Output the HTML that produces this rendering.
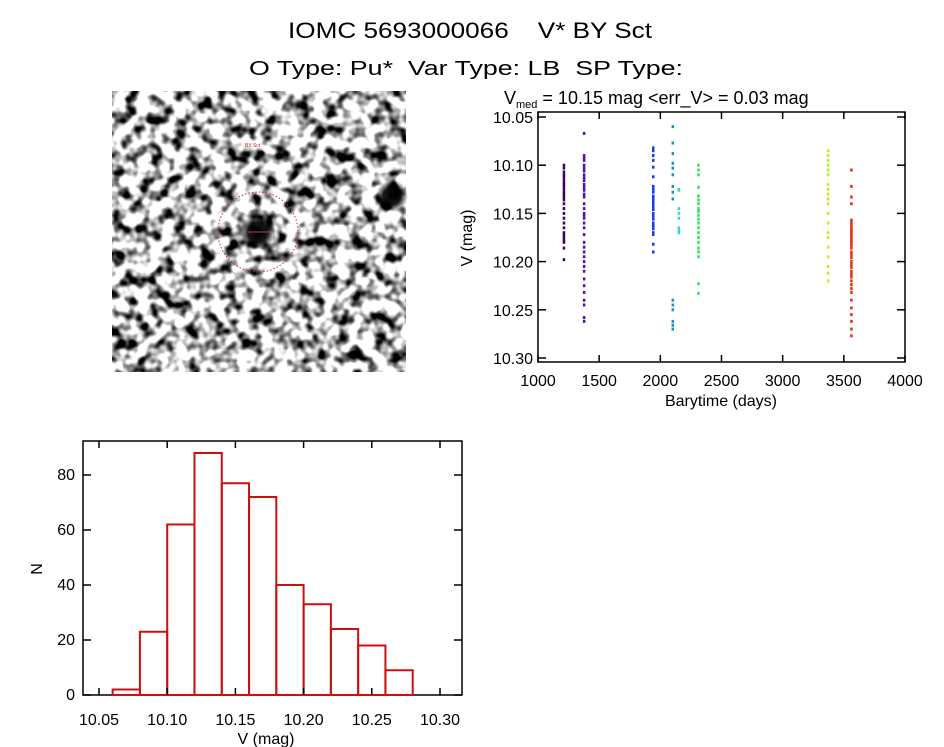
<!DOCTYPE html>
<html><head><meta charset="utf-8"><style>
html,body{margin:0;padding:0;background:#fff;}
svg{display:block;font-family:"Liberation Sans",sans-serif;}
text{white-space:pre;}
</style></head><body>
<svg id="root" width="944" height="747" viewBox="0 0 944 747" xmlns="http://www.w3.org/2000/svg">
<defs>
<filter id="noise" x="0" y="0" width="100%" height="100%">
<feTurbulence type="fractalNoise" baseFrequency="0.08" numOctaves="2" seed="7"/>
<feColorMatrix type="matrix" values="0 0 0 0 0  0 0 0 0 0  0 0 0 0 0  -3.6 0 0 0 2.05"/>
</filter>
<radialGradient id="star"><stop offset="0" stop-color="#000"/><stop offset="0.55" stop-color="#000" stop-opacity="0.9"/><stop offset="1" stop-color="#000" stop-opacity="0"/></radialGradient>
</defs>
<text x="470" y="38" font-size="22" text-anchor="middle" textLength="364" lengthAdjust="spacingAndGlyphs">IOMC 5693000066    V* BY Sct</text>
<text x="466" y="75" font-size="20" text-anchor="middle" textLength="434" lengthAdjust="spacingAndGlyphs">O Type: Pu*  Var Type: LB  SP Type:</text>
<g>
<rect x="112" y="91" width="294" height="281" fill="#ffffff"/>
<rect x="112" y="91" width="294" height="281" fill="#000" filter="url(#noise)"/>
<circle cx="258" cy="232" r="18" fill="url(#star)"/>
<circle cx="392" cy="196" r="16" fill="url(#star)"/>
<circle cx="258" cy="232" r="40" fill="none" stroke="#c03040" stroke-width="1" stroke-dasharray="1.5 2"/>
<line x1="248" y1="232" x2="270" y2="232" stroke="#a04070"/>
<text x="245" y="147" font-size="5" fill="#c02020">BY Sct</text>
</g>
<g id="scatter"></g>
<g id="hist"></g>
</svg>
<script>
const NS="http://www.w3.org/2000/svg";
const timeGroups=[1210,1375,1940,2100,2150,2310,3370,3560];
const groupColors=["#400060","#5010b0","#1040d0","#2090b0","#30d8d0","#30e060","#b8f020","#e03010"];
const magsG1=[10.100,10.103,10.107,10.110,10.112,10.115,10.118,10.120,10.122,10.125,10.128,10.130,10.133,10.136,10.140,10.145,10.150,10.155,10.160,10.165,10.170,10.172,10.175,10.178,10.180,10.186,10.198];
const magsG2=[10.067,10.090,10.092,10.095,10.100,10.103,10.106,10.110,10.113,10.116,10.120,10.123,10.126,10.130,10.133,10.140,10.145,10.150,10.152,10.155,10.160,10.165,10.172,10.180,10.185,10.190,10.195,10.200,10.205,10.210,10.218,10.225,10.232,10.240,10.245,10.258,10.262];
const magsG3=[10.082,10.085,10.090,10.095,10.102,10.112,10.122,10.125,10.128,10.132,10.135,10.138,10.140,10.143,10.146,10.150,10.153,10.156,10.160,10.163,10.166,10.170,10.172,10.182,10.190];
const magsG4=[10.060,10.077,10.088,10.098,10.103,10.110,10.122,10.128,10.135,10.240,10.245,10.250,10.262,10.266,10.270];
const magsG5=[10.125,10.126,10.145,10.150,10.155,10.165,10.168,10.170];
const magsG6=[10.100,10.105,10.110,10.123,10.132,10.136,10.140,10.145,10.148,10.152,10.156,10.160,10.165,10.170,10.175,10.180,10.186,10.190,10.195,10.223,10.233];
const magsG7=[10.085,10.090,10.095,10.100,10.105,10.110,10.120,10.125,10.130,10.135,10.140,10.150,10.160,10.170,10.175,10.185,10.195,10.205,10.212,10.220];
const magsG8=[10.105,10.122,10.133,10.140,10.157,10.160,10.163,10.166,10.168,10.170,10.172,10.175,10.178,10.180,10.183,10.186,10.190,10.193,10.196,10.200,10.203,10.206,10.210,10.213,10.216,10.220,10.224,10.228,10.232,10.240,10.248,10.255,10.262,10.270,10.277];
const magsByGroup=[magsG1,magsG2,magsG3,magsG4,magsG5,magsG6,magsG7,magsG8];
const xTicks=[1000,1500,2000,2500,3000,3500,4000];
const yTicks=[10.05,10.10,10.15,10.20,10.25,10.30];
const histBinStarts=[10.06,10.08,10.10,10.12,10.14,10.16,10.18,10.20,10.22,10.24,10.26];
const histCounts=[2,23,62,88,77,72,40,33,24,18,9];
const histXTicks=[10.05,10.10,10.15,10.20,10.25,10.30];
const histYTicks=[0,20,40,60,80];

function mk(tag,attrs,parent){const e=document.createElementNS(NS,tag);for(const k in attrs)e.setAttribute(k,attrs[k]);parent.appendChild(e);return e;}

const S=document.getElementById('scatter');
const sx=v=>538+(v-1000)/3000*367;
const sy=v=>117+(v-10.05)/0.25*241;
mk('rect',{x:538,y:112,width:367,height:250,fill:'none',stroke:'#000','stroke-width':1.5},S);
xTicks.forEach(t=>{
  const x=sx(t);
  mk('line',{x1:x,y1:362,x2:x,y2:355,stroke:'#000','stroke-width':1.5},S);
  mk('line',{x1:x,y1:112,x2:x,y2:119,stroke:'#000','stroke-width':1.5},S);
  const tx=mk('text',{x:x,y:386,'font-size':16,'text-anchor':'middle'},S);
  tx.textContent=t;
  
  
});
yTicks.forEach(t=>{
  const y=sy(t);
  mk('line',{x1:538,y1:y,x2:546,y2:y,stroke:'#000','stroke-width':1.5},S);
  mk('line',{x1:905,y1:y,x2:897,y2:y,stroke:'#000','stroke-width':1.5},S);
  const tx=mk('text',{x:533,y:y+6,'font-size':16,'text-anchor':'end'},S);
  tx.textContent=t.toFixed(2);
  
  
});
let xl=mk('text',{x:721,y:406,'font-size':16,'text-anchor':'middle'},S);xl.textContent='Barytime (days)';


let yl=mk('text',{x:0,y:0,'font-size':16,'text-anchor':'middle',transform:'translate(472,238) rotate(-90)'},S);yl.textContent='V (mag)';


let st=mk('text',{x:504,y:104,'font-size':18},S);
st.innerHTML='V<tspan font-size="11" dy="4">med</tspan><tspan dy="-4"> = 10.15 mag &lt;err_V&gt; = 0.03 mag</tspan>';


magsByGroup.forEach((arr,g)=>{
  arr.forEach(m=>{
    const p=mk('rect',{x:sx(timeGroups[g])-1,y:sy(m)-1.5,width:2.5,height:3,fill:groupColors[g]},S);
    
    
  });
});

const H=document.getElementById('hist');
const hx=v=>99+(v-10.05)/0.25*341;
const hy=v=>695-v*2.75;
mk('rect',{x:83,y:441,width:379,height:254,fill:'none',stroke:'#000','stroke-width':1.5},H);
histBinStarts.forEach((b,i)=>{
  const r=mk('rect',{x:hx(b),y:hy(histCounts[i]),width:hx(b+0.02)-hx(b),height:695-hy(histCounts[i]),fill:'none',stroke:'#cc1010','stroke-width':2},H);
  
  
});
histXTicks.forEach(t=>{
  const x=hx(t);
  mk('line',{x1:x,y1:695,x2:x,y2:688,stroke:'#000','stroke-width':1.5},H);
  mk('line',{x1:x,y1:441,x2:x,y2:448,stroke:'#000','stroke-width':1.5},H);
  const tx=mk('text',{x:x,y:725,'font-size':16,'text-anchor':'middle'},H);
  tx.textContent=t.toFixed(2);
  
  
});
histYTicks.forEach(t=>{
  const y=hy(t);
  mk('line',{x1:83,y1:y,x2:91,y2:y,stroke:'#000','stroke-width':1.5},H);
  mk('line',{x1:462,y1:y,x2:454,y2:y,stroke:'#000','stroke-width':1.5},H);
  const tx=mk('text',{x:75,y:y+5,'font-size':16,'text-anchor':'end'},H);
  tx.textContent=t;
  
  
});
let hxl=mk('text',{x:266,y:744,'font-size':16,'text-anchor':'middle'},H);hxl.textContent='V (mag)';


let hyl=mk('text',{x:0,y:0,'font-size':16,'text-anchor':'middle',transform:'translate(42,569) rotate(-90)'},H);hyl.textContent='N';


</script>
</body></html>
